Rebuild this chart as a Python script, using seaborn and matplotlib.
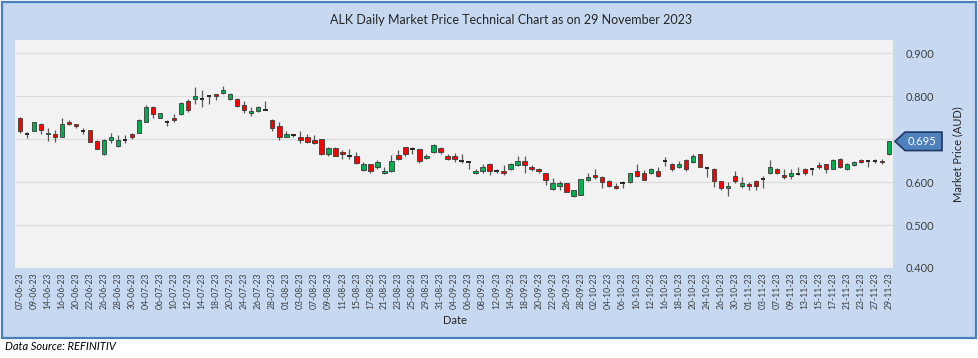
import numpy as np
import pandas as pd
import matplotlib
matplotlib.use("Agg")
import matplotlib.pyplot as plt
import matplotlib.transforms as mtransforms
from matplotlib.patches import Rectangle, Polygon
import seaborn as sns

# ---------------- data ----------------
start_date = "2023-06-07"
end_date = "2023-11-29"
market_holidays = ["2023-06-12"]

opens = [0.750, 0.711, 0.719, 0.735, 0.711, 0.712, 0.705, 0.741, 0.735, 0.719,
         0.721, 0.695, 0.665, 0.699, 0.685, 0.699, 0.711, 0.715, 0.740, 0.776,
         0.750, 0.740, 0.750, 0.759, 0.790, 0.794, 0.794, 0.800, 0.805, 0.808,
         0.794, 0.794, 0.780, 0.761, 0.765, 0.769, 0.744, 0.730, 0.705, 0.709,
         0.705, 0.705, 0.699, 0.700, 0.665, 0.680, 0.671, 0.661, 0.661, 0.628,
         0.642, 0.635, 0.621, 0.625, 0.663, 0.681, 0.676, 0.677, 0.656, 0.669,
         0.680, 0.661, 0.662, 0.650, 0.646, 0.621, 0.625, 0.642, 0.625, 0.627,
         0.630, 0.640, 0.650, 0.636, 0.630, 0.621, 0.585, 0.592, 0.598, 0.567,
         0.571, 0.605, 0.617, 0.612, 0.602, 0.592, 0.598, 0.600, 0.627, 0.621,
         0.621, 0.627, 0.650, 0.642, 0.635, 0.652, 0.646, 0.665, 0.632, 0.631,
         0.602, 0.586, 0.615, 0.590, 0.596, 0.602, 0.607, 0.621, 0.631, 0.617,
         0.615, 0.620, 0.631, 0.630, 0.640, 0.642, 0.631, 0.655, 0.630, 0.640,
         0.652, 0.650, 0.650, 0.650, 0.665]
highs = [0.752, 0.717, 0.741, 0.738, 0.725, 0.721, 0.749, 0.744, 0.736, 0.726,
         0.721, 0.697, 0.700, 0.714, 0.709, 0.709, 0.715, 0.746, 0.779, 0.778,
         0.762, 0.745, 0.759, 0.786, 0.794, 0.821, 0.815, 0.800, 0.806, 0.825,
         0.807, 0.797, 0.790, 0.776, 0.777, 0.790, 0.746, 0.740, 0.719, 0.713,
         0.719, 0.711, 0.709, 0.700, 0.682, 0.681, 0.674, 0.676, 0.671, 0.648,
         0.643, 0.652, 0.635, 0.663, 0.675, 0.682, 0.681, 0.678, 0.665, 0.688,
         0.682, 0.665, 0.668, 0.665, 0.648, 0.630, 0.642, 0.644, 0.630, 0.640,
         0.644, 0.661, 0.661, 0.640, 0.632, 0.622, 0.609, 0.602, 0.599, 0.582,
         0.608, 0.621, 0.630, 0.614, 0.604, 0.599, 0.602, 0.621, 0.642, 0.628,
         0.633, 0.635, 0.658, 0.645, 0.649, 0.655, 0.665, 0.666, 0.636, 0.632,
         0.603, 0.600, 0.626, 0.611, 0.600, 0.604, 0.615, 0.652, 0.634, 0.630,
         0.630, 0.635, 0.632, 0.634, 0.646, 0.643, 0.653, 0.657, 0.645, 0.650,
         0.655, 0.652, 0.654, 0.654, 0.696]
lows = [0.715, 0.702, 0.718, 0.712, 0.695, 0.694, 0.705, 0.732, 0.726, 0.712,
        0.694, 0.676, 0.664, 0.690, 0.682, 0.690, 0.701, 0.714, 0.740, 0.750,
        0.749, 0.731, 0.740, 0.757, 0.763, 0.782, 0.775, 0.781, 0.792, 0.805,
        0.792, 0.776, 0.761, 0.755, 0.763, 0.767, 0.718, 0.698, 0.704, 0.705,
        0.692, 0.692, 0.688, 0.664, 0.662, 0.660, 0.655, 0.655, 0.643, 0.627,
        0.621, 0.630, 0.618, 0.624, 0.652, 0.662, 0.665, 0.645, 0.655, 0.668,
        0.665, 0.652, 0.648, 0.644, 0.630, 0.619, 0.622, 0.616, 0.621, 0.617,
        0.628, 0.638, 0.621, 0.625, 0.621, 0.594, 0.582, 0.582, 0.576, 0.565,
        0.570, 0.602, 0.607, 0.586, 0.588, 0.584, 0.586, 0.598, 0.613, 0.605,
        0.619, 0.613, 0.638, 0.627, 0.632, 0.626, 0.644, 0.635, 0.612, 0.589,
        0.582, 0.567, 0.598, 0.586, 0.582, 0.582, 0.586, 0.619, 0.618, 0.607,
        0.607, 0.617, 0.617, 0.617, 0.630, 0.622, 0.630, 0.634, 0.628, 0.638,
        0.644, 0.636, 0.644, 0.642, 0.664]
closes = [0.719, 0.711, 0.740, 0.721, 0.715, 0.705, 0.736, 0.735, 0.730, 0.719,
          0.694, 0.678, 0.699, 0.705, 0.699, 0.699, 0.704, 0.745, 0.776, 0.759,
          0.761, 0.740, 0.744, 0.785, 0.768, 0.800, 0.794, 0.800, 0.800, 0.815,
          0.805, 0.778, 0.769, 0.765, 0.775, 0.769, 0.725, 0.705, 0.711, 0.709,
          0.699, 0.694, 0.690, 0.665, 0.680, 0.661, 0.665, 0.661, 0.645, 0.642,
          0.625, 0.648, 0.627, 0.650, 0.655, 0.665, 0.676, 0.649, 0.662, 0.686,
          0.669, 0.655, 0.655, 0.650, 0.646, 0.627, 0.636, 0.625, 0.625, 0.621,
          0.642, 0.650, 0.640, 0.630, 0.626, 0.605, 0.598, 0.598, 0.577, 0.581,
          0.607, 0.611, 0.612, 0.600, 0.592, 0.586, 0.598, 0.621, 0.615, 0.605,
          0.631, 0.615, 0.650, 0.630, 0.642, 0.630, 0.662, 0.636, 0.632, 0.602,
          0.586, 0.592, 0.602, 0.598, 0.590, 0.590, 0.607, 0.636, 0.621, 0.611,
          0.621, 0.620, 0.621, 0.630, 0.635, 0.630, 0.652, 0.636, 0.642, 0.646,
          0.646, 0.650, 0.650, 0.646, 0.695]

y_ticks = [0.4, 0.5, 0.6, 0.7, 0.8, 0.9]
title_text = "ALK Daily Market Price Technical Chart as on 29 November 2023"
x_title = "Date"
y_title = "Market Price (AUD)"
source_text = "Data Source: REFINITIV"

# ---------------- build frame ----------------
dates = pd.bdate_range(start_date, end_date, freq="C", holidays=market_holidays)
df = pd.DataFrame({"date": dates, "open": opens, "high": highs,
                   "low": lows, "close": closes})
df["pos"] = np.arange(len(df))
df["label"] = df["date"].dt.strftime("%d-%m-%y")
df["body_low"] = df[["open", "close"]].min(axis=1)
df["body_h"] = (df["close"] - df["open"]).abs()
df["dir"] = np.where(df["close"] > df["open"], "up",
                     np.where(df["close"] < df["open"], "down", "flat"))

# ---------------- style ----------------
sns.set_theme(style="white")
plt.rcParams["font.family"] = ["Lato", "DejaVu Sans"]

W, H = 979, 358
fig = plt.figure(figsize=(W / 100, H / 100), dpi=100)
fig.patch.set_facecolor("white")

def fx(px):
    return px / W

def fy(py):
    return 1 - py / H

# outer blue panel (behind the axes)
panel = Rectangle((fx(2), fy(338)), fx(974), 336 / H, transform=fig.transFigure,
                  facecolor="#C6D9F1", edgecolor="#4A7EBB", linewidth=1.6, zorder=-10)
fig.add_artist(panel)

left, right, top, bottom = 15, 893, 40, 268
ax = fig.add_axes([fx(left), fy(bottom), fx(right - left), (bottom - top) / H])
ax.set_zorder(1)
ax.set_facecolor("#F2F2F2")
for s in ax.spines.values():
    s.set_visible(False)

up_col = "#00B050"
down_col = "#FF0000"

# wicks
ax.vlines(df["pos"], df["low"], df["high"], color="#595959", linewidth=0.9, zorder=2)

# bodies
moving = df[df["dir"] != "flat"]
cols = np.where(moving["dir"] == "up", up_col, down_col)
ax.bar(moving["pos"], moving["body_h"], bottom=moving["body_low"], width=0.62,
       color=cols, edgecolor="#3A3A3A", linewidth=0.6, zorder=3)
flat = df[df["dir"] == "flat"]
ax.hlines(flat["close"], flat["pos"] - 0.32, flat["pos"] + 0.32,
          color="#262626", linewidth=1.4, zorder=3)

# axes
last = df["close"].iloc[-1]
ax.set_xlim(-0.72, len(df) - 1 + 0.57)
ax.set_ylim(0.4, 0.931)
ax.set_yticks(y_ticks)
ax.yaxis.tick_right()
# the 0.700 label sits under the last-price tag in the original
ax.set_yticklabels(["" if abs(v - last) < 0.02 else f"{v:.3f}" for v in y_ticks])
ax.grid(axis="y", color="#DCDCDC", linewidth=0.9, zorder=0)
ax.grid(axis="x", visible=False)
ax.set_axisbelow(True)
ax.tick_params(axis="y", length=0, pad=9, labelsize=8, labelcolor="#404040")

ax.set_xticks(df["pos"][::2])
ax.set_xticklabels(df["label"][::2], rotation=90)
ax.tick_params(axis="x", length=0, pad=3, labelsize=6.2, labelcolor="#404040")

# texts
fig.text(fx(511), fy(20), title_text, ha="center", va="center",
         fontsize=9, color="#262626")
fig.text(fx(455), fy(320), x_title, ha="center", va="center",
         fontsize=8, color="#262626")
fig.text(fx(958), fy(154), y_title, ha="center", va="center", rotation=90,
         fontsize=8, color="#262626")
fig.text(fx(5), fy(347), source_text, ha="left", va="center",
         fontsize=8, style="italic", color="#000000")

# last price tag
blend = mtransforms.blended_transform_factory(fig.transFigure, ax.transData)
hh = 0.0215
tag = Polygon([(fx(895), last), (fx(905), last + hh), (fx(942), last + hh),
               (fx(942), last - hh), (fx(905), last - hh)], closed=True,
              transform=blend, facecolor="#4F81BD", edgecolor="#1F3864",
              linewidth=1.2, clip_on=False, zorder=5)
fig.add_artist(tag)
fig.text(fx(922), last, f"{last:.3f}", transform=blend, ha="center", va="center",
         fontsize=8, color="white", zorder=6)

fig.savefig("out.png", dpi=100, facecolor="white")
